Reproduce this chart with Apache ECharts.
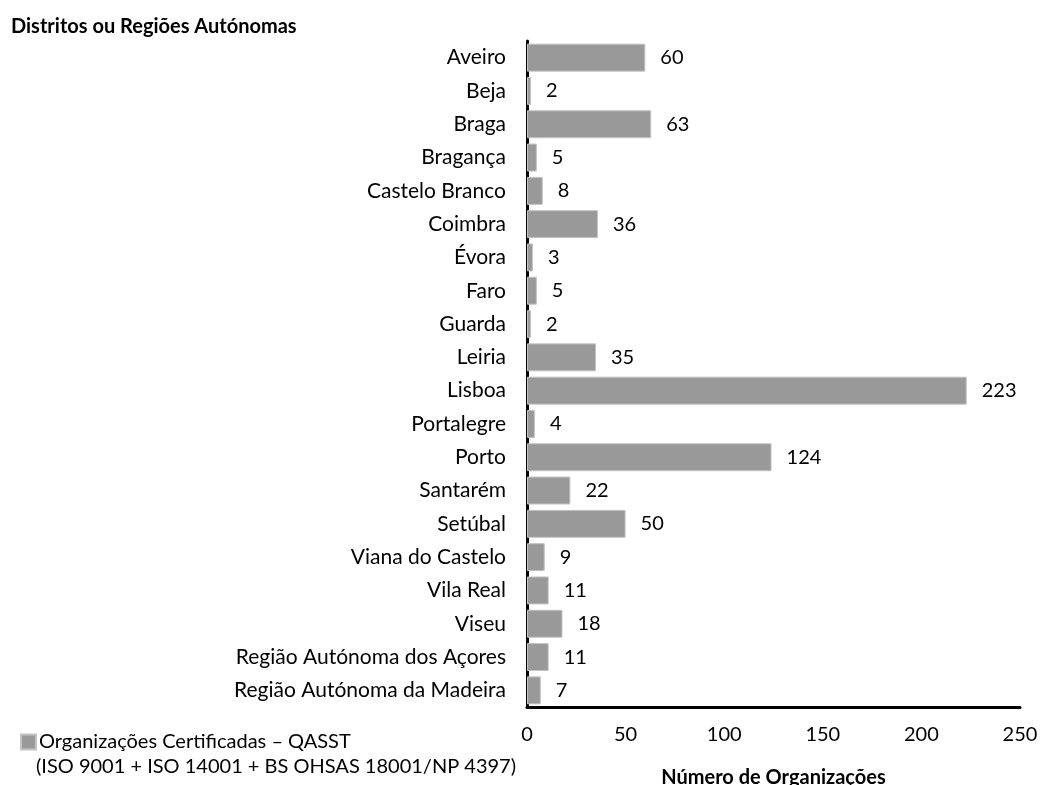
<!DOCTYPE html>
<html>
<head>
<meta charset="utf-8">
<script src="https://cdn.jsdelivr.net/npm/echarts@6/dist/echarts.min.js"></script>
<style>
  html, body { margin: 0; padding: 0; background: #fff; }
  #chart { width: 1041px; height: 785px; }
</style>
</head>
<body>
<div id="chart"></div>
<script>
// Districts / autonomous regions, top to bottom
const categories = [
  'Aveiro', 'Beja', 'Braga', 'Bragança', 'Castelo Branco', 'Coimbra', 'Évora',
  'Faro', 'Guarda', 'Leiria', 'Lisboa', 'Portalegre', 'Porto', 'Santarém',
  'Setúbal', 'Viana do Castelo', 'Vila Real', 'Viseu',
  'Região Autónoma dos Açores', 'Região Autónoma da Madeira'
];
// Certified organisations per district
const organizacoes = [60, 2, 63, 5, 8, 36, 3, 5, 2, 35, 223, 4, 124, 22, 50, 9, 11, 18, 11, 7];
const xTicks = [0, 50, 100, 150, 200, 250];
const seriesName = 'Organizações Certificadas – QASST';
const seriesNote = '(ISO 9001 + ISO 14001 + BS OHSAS 18001/NP 4397)';

const FONT = 'Lato';
const chart = echarts.init(document.getElementById('chart'), null, { renderer: 'canvas' });

chart.setOption({
  animation: false,
  backgroundColor: '#fff',
  textStyle: { fontFamily: FONT, color: '#000' },
  title: {
    text: 'Distritos ou Regiões Autónomas',
    left: 6,
    top: 12,
    textStyle: { fontFamily: FONT, fontSize: 20, fontWeight: 'bold', color: '#000' }
  },
  legend: {
    data: [seriesName],
    left: 20,
    top: 732,
    icon: 'rect',
    itemWidth: 15,
    itemHeight: 15,
    itemGap: 2,
    padding: 0,
    textStyle: { fontFamily: FONT, fontSize: 20, color: '#000', padding: [0, 0, 0, -2] }
  },
  graphic: [{
    type: 'text',
    left: 36,
    top: 757,
    style: { text: seriesNote, fontFamily: FONT, fontSize: 20, fill: '#000' }
  }],
  grid: {
    left: 527, right: 21, top: 41, bottom: 78,
    containLabel: false,
    outerBoundsMode: 'none'
  },
  xAxis: {
    type: 'value',
    min: 0,
    max: 250,
    interval: 50,
    name: 'Número de Organizações',
    nameLocation: 'middle',
    nameGap: 61,
    nameTextStyle: { fontFamily: FONT, fontSize: 20, fontWeight: 'bold', color: '#000' },
    axisLine: { show: true, lineStyle: { color: '#000', width: 3 } },
    axisTick: { show: false },
    splitLine: { show: false },
    axisLabel: {
      margin: 18,
      fontFamily: FONT,
      fontSize: 20,
      color: '#000',
      formatter: v => (xTicks.includes(v) ? String(v) : '')
    }
  },
  yAxis: {
    type: 'category',
    data: categories,
    inverse: true,
    axisLine: { show: true, lineStyle: { color: '#000', width: 3 } },
    axisTick: { show: false },
    splitLine: { show: false },
    axisLabel: { margin: 21, fontFamily: FONT, fontSize: 21, color: '#000' }
  },
  series: [{
    name: seriesName,
    type: 'bar',
    data: organizacoes,
    barWidth: '84%',
    itemStyle: { color: '#999999', borderColor: '#c4c4c4', borderWidth: 1 },
    label: {
      show: true,
      position: 'right',
      distance: 15,
      fontFamily: FONT,
      fontSize: 20,
      color: '#000'
    }
  }]
});
</script>
</body>
</html>
